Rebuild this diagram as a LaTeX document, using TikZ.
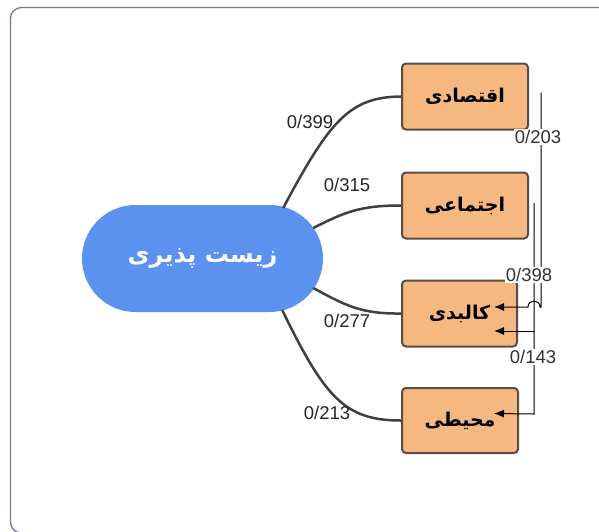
\documentclass[tikz,border=0pt]{standalone}
\usepackage{fontspec}
\setmainfont{Liberation Sans}
\newfontfamily\arabicfont[Script=Arabic]{DejaVu Sans}
\TeXXeTstate=1
\usetikzlibrary{calc,arrows.meta}
\definecolor{boxfill}{HTML}{F4B880}
\definecolor{boxdraw}{HTML}{5B4B45}
\definecolor{hubblue}{HTML}{5B92F0}
\definecolor{framec}{HTML}{7A7A98}
\definecolor{curvec}{HTML}{3F3F3F}
\tikzset{
  catbox/.style={draw=boxdraw, fill=boxfill, line width=2pt, rounded corners=4pt,
    minimum height=66pt, inner sep=0pt, font=\arabicfont\bfseries\fontsize{19}{19}\selectfont},
  hub/.style={fill=hubblue, draw=none, rounded corners=53.5pt, minimum width=241pt,
    minimum height=107pt, inner sep=0pt, text=white,
    font=\arabicfont\bfseries\fontsize{24}{24}\selectfont},
  link/.style={draw=curvec, line width=2.5pt},
  wlabel/.style={font=\fontsize{18.5}{18.5}\selectfont, inner sep=1pt, text=black!85},
  rlabel/.style={font=\fontsize{18.5}{18.5}\selectfont, inner sep=1pt, fill=white, text=black!80},
  rel/.style={draw=black, line width=1pt},
  relarrow/.style={rel, -{Latex[length=10pt,width=8pt]}}
}
\begin{document}
\begin{tikzpicture}[x=1pt,y=-1pt]
\useasboundingbox (0,0) rectangle (599,531);
\fill[white] (0,0) rectangle (599,531);
\begin{scope}
\clip (0,0) rectangle (599,531);
\draw[framec, line width=1.3pt, rounded corners=11pt] (10.5,7.5) rectangle (640,533);
\end{scope}

\node[hub] (c) at (202.5,258.5) {\beginR زیست پذیری\endR};
\node[catbox, minimum width=126pt] (b1) at (465,96.5) {\beginR اقتصادی\endR};
\node[catbox, minimum width=126pt] (b2) at (465,205.5) {\beginR اجتماعی\endR};
\node[catbox, minimum width=115pt] (b3) at (459.5,313.5) {\beginR کالبدی\endR};
\node[catbox, minimum width=116pt, minimum height=65pt] (b4) at (460,420.5) {\beginR محیطی\endR};

\draw[link] ($(c.east)+(-40,-50.5)$) .. controls (330,120) and (350,97) .. (b1.west);
\draw[link] ($(c.east)+(-10,-30.5)$) .. controls (345,212) and (360,205.5) .. (b2.west);
\draw[link] ($(c.east)+(-10,29.5)$) .. controls (345,305) and (360,314) .. (b3.west);
\draw[link] ($(c.east)+(-41,51.5)$) .. controls (325,398) and (345,420.5) .. (b4.west);

\node[wlabel] (l1) at (310,122) {0/399};
\node[wlabel] (l2) at (347,185) {0/315};
\node[wlabel] (l3) at (347,321) {0/277};
\node[wlabel] (l4) at (327,413) {0/213};

% right-hand relations
\coordinate (a0) at ($(b1.east)+(12,-4)$);
\coordinate (a1) at ($(b1.east)+(12,210.5)$);
\coordinate (a2) at ($(b3.east)+(-24,-6.5)$);
\coordinate (d0) at ($(b2.east)+(5,-2.5)$);
\coordinate (d1) at ($(b2.east)+(5,125.5)$);
\coordinate (d2) at ($(b3.east)+(-24,17.5)$);
\coordinate (d3) at ($(b2.east)+(5,208.5)$);
\coordinate (d4) at ($(b4.east)+(-25,-7)$);

\draw[relarrow] (a0) -- (a1) -- ($(a1)+(-1,0)$) .. controls ($(a1)+(-1,-8)$) and ($(a1)+(-13,-8)$) .. ($(a1)+(-13,0)$) -- (a2);
\draw[relarrow] (d0) -- (d3) -- (d4);
\draw[relarrow] (d1) -- (d2);

\node[rlabel] (r1) at (538,137) {0/203};
\node[rlabel] (r2) at (529,275) {0/398};
\node[rlabel] (r3) at (533,357) {0/143};
\end{tikzpicture}
\end{document}
